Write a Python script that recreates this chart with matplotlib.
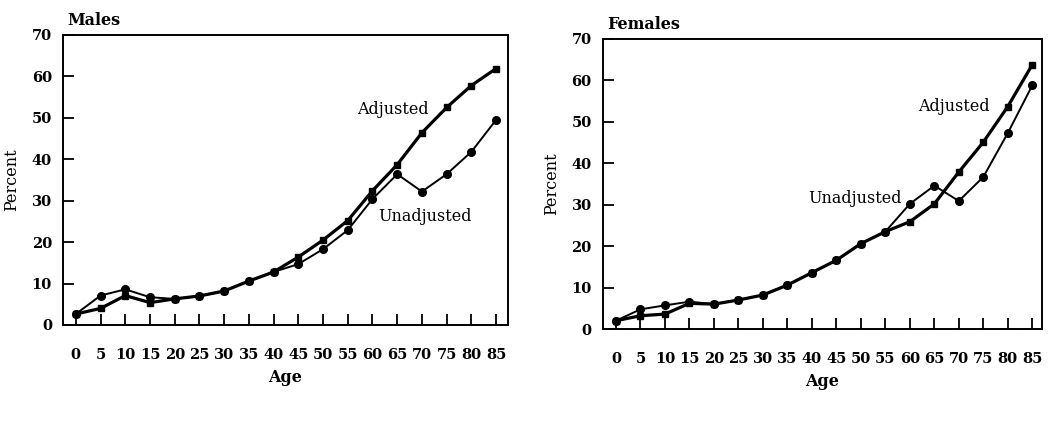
import matplotlib
matplotlib.use("Agg")
import matplotlib.pyplot as plt

ages = [0, 5, 10, 15, 20, 25, 30, 35, 40, 45, 50, 55, 60, 65, 70, 75, 80, 85]
male_adjusted = [2.65, 4.0, 7.1, 5.4, 6.3, 7.0, 8.2, 10.6, 12.8, 16.4, 20.5, 25.2,
                 32.4, 38.7, 46.4, 52.5, 57.8, 61.9]
male_unadjusted = [2.65, 7.1, 8.6, 6.7, 6.3, 7.0, 8.2, 10.6, 12.8, 14.7, 18.3, 22.9,
                   30.4, 36.4, 32.2, 36.4, 41.8, 49.5]
female_adjusted = [2.0, 3.2, 3.6, 6.2, 6.0, 7.0, 8.2, 10.6, 13.6, 16.6, 20.6, 23.5,
                   25.9, 30.2, 37.9, 45.1, 53.7, 63.8]
female_unadjusted = [2.0, 4.75, 5.7, 6.6, 6.0, 7.0, 8.2, 10.6, 13.6, 16.6, 20.6, 23.5,
                     30.2, 34.6, 30.9, 36.7, 47.3, 58.8]
y_ticks = [0, 10, 20, 30, 40, 50, 60, 70]

plt.rcParams['font.family'] = ['DejaVu Serif']
FS = 11.5
TFS = 10.5

fig = plt.figure(figsize=(10.64, 4.28), dpi=100)

panels = [
    dict(rect=[0.0592, 0.2407, 0.4182, 0.6776], title="Males",
         adj=male_adjusted, unadj=male_unadjusted, xlim=(-2.6, 87.4),
         adj_lbl=(56.9, 51.9), unadj_lbl=(61.1, 26.3)),
    dict(rect=[0.5665, 0.2313, 0.4129, 0.6776], title="Females",
         adj=female_adjusted, unadj=female_unadjusted, xlim=(-2.7, 87.0),
         adj_lbl=(61.7, 53.6), unadj_lbl=(39.2, 31.6)),
]

for p in panels:
    ax = fig.add_axes(p['rect'])
    ax.plot(ages, p['adj'], color='black', lw=2.3, marker='s', ms=4.5,
            solid_joinstyle='round')
    ax.plot(ages, p['unadj'], color='black', lw=1.4, marker='o', ms=5.5)
    ax.set_xlim(*p['xlim'])
    ax.set_ylim(0, 70)
    ax.set_xticks(ages)
    ax.set_xticklabels([str(a) for a in ages], fontsize=TFS, fontweight='bold')
    ax.set_yticks(y_ticks)
    ax.set_yticklabels([str(v) for v in y_ticks], fontsize=TFS, fontweight='bold')
    ax.tick_params(axis='x', direction='in', length=8, width=1.3, pad=16.5)
    ax.tick_params(axis='y', direction='in', length=8, width=1.3, pad=8)
    for s in ax.spines.values():
        s.set_linewidth(1.4)
    ax.set_xlabel("Age", fontsize=FS, fontweight='bold', labelpad=5)
    ax.set_ylabel("Percent", fontsize=FS, labelpad=8)
    ax.text(0.01, 1.034, p['title'], transform=ax.transAxes, fontsize=FS,
            fontweight='bold', ha='left', va='baseline')
    ax.text(p['adj_lbl'][0], p['adj_lbl'][1], "Adjusted", fontsize=FS,
            ha='left', va='center')
    ax.text(p['unadj_lbl'][0], p['unadj_lbl'][1], "Unadjusted", fontsize=FS,
            ha='left', va='center')

fig.savefig("out.png", dpi=100)
